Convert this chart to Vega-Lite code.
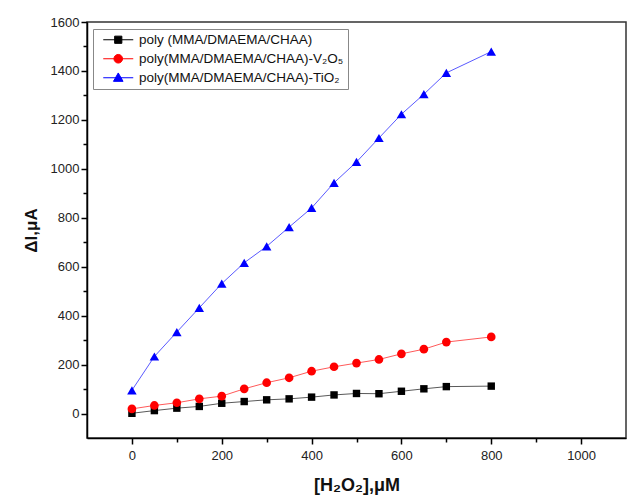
{
  "$schema": "https://vega.github.io/schema/vega-lite/v6.json",
  "width": 539,
  "height": 416,
  "autosize": {"type": "none"},
  "padding": {"left": 87, "top": 22, "right": 1, "bottom": 62},
  "background": "white",
  "config": {"view": {"stroke": "#333333", "strokeWidth": 1.5}, "font": "Liberation Sans"},
  "data": {"values": [
    {"series": "poly (MMA/DMAEMA/CHAA)", "conc": 0, "dI": 1},
    {"series": "poly (MMA/DMAEMA/CHAA)", "conc": 50, "dI": 12},
    {"series": "poly (MMA/DMAEMA/CHAA)", "conc": 100, "dI": 22},
    {"series": "poly (MMA/DMAEMA/CHAA)", "conc": 150, "dI": 29},
    {"series": "poly (MMA/DMAEMA/CHAA)", "conc": 200, "dI": 42},
    {"series": "poly (MMA/DMAEMA/CHAA)", "conc": 250, "dI": 49},
    {"series": "poly (MMA/DMAEMA/CHAA)", "conc": 300, "dI": 56},
    {"series": "poly (MMA/DMAEMA/CHAA)", "conc": 350, "dI": 60},
    {"series": "poly (MMA/DMAEMA/CHAA)", "conc": 400, "dI": 67},
    {"series": "poly (MMA/DMAEMA/CHAA)", "conc": 450, "dI": 76},
    {"series": "poly (MMA/DMAEMA/CHAA)", "conc": 500, "dI": 82},
    {"series": "poly (MMA/DMAEMA/CHAA)", "conc": 550, "dI": 81},
    {"series": "poly (MMA/DMAEMA/CHAA)", "conc": 600, "dI": 91},
    {"series": "poly (MMA/DMAEMA/CHAA)", "conc": 650, "dI": 101},
    {"series": "poly (MMA/DMAEMA/CHAA)", "conc": 700, "dI": 110},
    {"series": "poly (MMA/DMAEMA/CHAA)", "conc": 800, "dI": 112},
    {"series": "poly(MMA/DMAEMA/CHAA)-V₂O₅", "conc": 0, "dI": 19},
    {"series": "poly(MMA/DMAEMA/CHAA)-V₂O₅", "conc": 50, "dI": 33},
    {"series": "poly(MMA/DMAEMA/CHAA)-V₂O₅", "conc": 100, "dI": 44},
    {"series": "poly(MMA/DMAEMA/CHAA)-V₂O₅", "conc": 150, "dI": 60},
    {"series": "poly(MMA/DMAEMA/CHAA)-V₂O₅", "conc": 200, "dI": 71},
    {"series": "poly(MMA/DMAEMA/CHAA)-V₂O₅", "conc": 250, "dI": 101},
    {"series": "poly(MMA/DMAEMA/CHAA)-V₂O₅", "conc": 300, "dI": 126},
    {"series": "poly(MMA/DMAEMA/CHAA)-V₂O₅", "conc": 350, "dI": 146},
    {"series": "poly(MMA/DMAEMA/CHAA)-V₂O₅", "conc": 400, "dI": 173},
    {"series": "poly(MMA/DMAEMA/CHAA)-V₂O₅", "conc": 450, "dI": 191},
    {"series": "poly(MMA/DMAEMA/CHAA)-V₂O₅", "conc": 500, "dI": 206},
    {"series": "poly(MMA/DMAEMA/CHAA)-V₂O₅", "conc": 550, "dI": 221},
    {"series": "poly(MMA/DMAEMA/CHAA)-V₂O₅", "conc": 600, "dI": 244},
    {"series": "poly(MMA/DMAEMA/CHAA)-V₂O₅", "conc": 650, "dI": 263},
    {"series": "poly(MMA/DMAEMA/CHAA)-V₂O₅", "conc": 700, "dI": 292},
    {"series": "poly(MMA/DMAEMA/CHAA)-V₂O₅", "conc": 800, "dI": 313},
    {"series": "poly(MMA/DMAEMA/CHAA)-TiO₂", "conc": 0, "dI": 95},
    {"series": "poly(MMA/DMAEMA/CHAA)-TiO₂", "conc": 50, "dI": 233},
    {"series": "poly(MMA/DMAEMA/CHAA)-TiO₂", "conc": 100, "dI": 333},
    {"series": "poly(MMA/DMAEMA/CHAA)-TiO₂", "conc": 150, "dI": 432},
    {"series": "poly(MMA/DMAEMA/CHAA)-TiO₂", "conc": 200, "dI": 531},
    {"series": "poly(MMA/DMAEMA/CHAA)-TiO₂", "conc": 250, "dI": 616},
    {"series": "poly(MMA/DMAEMA/CHAA)-TiO₂", "conc": 300, "dI": 683},
    {"series": "poly(MMA/DMAEMA/CHAA)-TiO₂", "conc": 350, "dI": 762},
    {"series": "poly(MMA/DMAEMA/CHAA)-TiO₂", "conc": 400, "dI": 840},
    {"series": "poly(MMA/DMAEMA/CHAA)-TiO₂", "conc": 450, "dI": 943},
    {"series": "poly(MMA/DMAEMA/CHAA)-TiO₂", "conc": 500, "dI": 1028},
    {"series": "poly(MMA/DMAEMA/CHAA)-TiO₂", "conc": 550, "dI": 1126},
    {"series": "poly(MMA/DMAEMA/CHAA)-TiO₂", "conc": 600, "dI": 1223},
    {"series": "poly(MMA/DMAEMA/CHAA)-TiO₂", "conc": 650, "dI": 1305},
    {"series": "poly(MMA/DMAEMA/CHAA)-TiO₂", "conc": 700, "dI": 1392},
    {"series": "poly(MMA/DMAEMA/CHAA)-TiO₂", "conc": 800, "dI": 1479}
  ]},
  "encoding": {
    "x": {
      "field": "conc", "type": "quantitative",
      "scale": {"domain": [-100, 1100], "nice": false, "zero": false},
      "axis": {
        "values": [0, 100, 200, 300, 400, 500, 600, 700, 800, 900, 1000],
        "format": "d",
        "labelExpr": "datum.value % 200 === 0 ? datum.label : ''",
        "tickSize": {"condition": {"test": "datum.value % 200 === 0", "value": 6}, "value": 4},
        "grid": false,
        "domainColor": "#000000", "domainWidth": 1.5,
        "tickColor": "#000000", "tickWidth": 1.5,
        "labelFontSize": 13, "labelColor": "#222222", "labelPadding": 5,
        "title": "[H₂O₂],μM", "titleFontSize": 18, "titleFontWeight": "bold", "titleColor": "#111111", "titlePadding": 14
      }
    },
    "y": {
      "field": "dI", "type": "quantitative",
      "scale": {"domain": [-100, 1600], "nice": false, "zero": false},
      "axis": {
        "values": [0, 100, 200, 300, 400, 500, 600, 700, 800, 900, 1000, 1100, 1200, 1300, 1400, 1500, 1600],
        "format": "d",
        "labelExpr": "datum.value % 200 === 0 ? datum.label : ''",
        "tickSize": {"condition": {"test": "datum.value % 200 === 0", "value": 6}, "value": 4},
        "grid": false,
        "domainColor": "#000000", "domainWidth": 1.5,
        "tickColor": "#000000", "tickWidth": 1.5,
        "labelFontSize": 13, "labelColor": "#222222", "labelPadding": 2,
        "title": "ΔI,μA", "titleFontSize": 17, "titleFontWeight": "bold", "titleColor": "#111111", "titlePadding": 10
      }
    }
  },
  "layer": [
    {
      "transform": [{"filter": "datum.series === 'poly (MMA/DMAEMA/CHAA)'"}],
      "mark": {"type": "line", "strokeWidth": 1, "opacity": 0.65, "color": "#000000"}
    },
    {
      "transform": [{"filter": "datum.series === 'poly(MMA/DMAEMA/CHAA)-V₂O₅'"}],
      "mark": {"type": "line", "strokeWidth": 1, "opacity": 0.65, "color": "#ff0000"}
    },
    {
      "transform": [{"filter": "datum.series === 'poly(MMA/DMAEMA/CHAA)-TiO₂'"}],
      "mark": {"type": "line", "strokeWidth": 1, "opacity": 0.65, "color": "#0000ff"}
    },
    {
      "transform": [{"filter": "datum.series === 'poly (MMA/DMAEMA/CHAA)'"}],
      "mark": {"type": "point", "filled": true, "opacity": 1, "shape": "square", "size": 55, "color": "#000000"}
    },
    {
      "transform": [{"filter": "datum.series === 'poly(MMA/DMAEMA/CHAA)-V₂O₅'"}],
      "mark": {"type": "point", "filled": true, "opacity": 1, "shape": "circle", "size": 75, "color": "#ff0000"}
    },
    {
      "transform": [{"filter": "datum.series === 'poly(MMA/DMAEMA/CHAA)-TiO₂'"}],
      "mark": {"type": "point", "filled": true, "opacity": 1, "shape": "triangle-up", "size": 90, "color": "#0000ff"}
    },
    {
      "mark": {"type": "point", "filled": true, "opacity": 0, "size": 144},
      "encoding": {
        "color": {"field": "series", "type": "nominal",
          "scale": {"domain": ["poly (MMA/DMAEMA/CHAA)", "poly(MMA/DMAEMA/CHAA)-V₂O₅", "poly(MMA/DMAEMA/CHAA)-TiO₂"], "range": ["#000000", "#ff0000", "#0000ff"]},
          "legend": {
            "title": null, "orient": "none", "legendX": 6, "legendY": 7,
            "padding": 4, "strokeColor": "#888888", "fillColor": "#ffffff",
            "symbolSize": 144, "symbolOffset": 14.5, "labelOffset": 14,
            "labelFontSize": 13.5, "labelColor": "#111111", "rowPadding": 4,
            "labelLimit": 400,
            "encode": {"symbols": {"update": {"opacity": {"value": 1}, "strokeWidth": {"value": 1}, "fill": {"scale": "color", "field": "value"}, "stroke": {"scale": "color", "field": "value"}}}}
          }},
        "shape": {"field": "series", "type": "nominal",
          "scale": {"domain": ["poly (MMA/DMAEMA/CHAA)", "poly(MMA/DMAEMA/CHAA)-V₂O₅", "poly(MMA/DMAEMA/CHAA)-TiO₂"],
            "range": [
              "M-2.5,0H2.5M-0.6,-0.6H0.6V0.6H-0.6Z",
              "M-2.5,0H2.5M-0.72,0A0.72,0.72,0,1,0,0.72,0A0.72,0.72,0,1,0,-0.72,0Z",
              "M-2.5,0H2.5M0,-0.8L0.8,0.6L-0.8,0.6Z"
            ]},
          "legend": {
            "title": null, "orient": "none", "legendX": 6, "legendY": 7,
            "padding": 4, "strokeColor": "#888888", "fillColor": "#ffffff",
            "symbolSize": 144, "symbolOffset": 14.5, "labelOffset": 14,
            "labelFontSize": 13.5, "labelColor": "#111111", "rowPadding": 4,
            "labelLimit": 400,
            "encode": {"symbols": {"update": {"opacity": {"value": 1}, "strokeWidth": {"value": 1}, "fill": {"scale": "color", "field": "value"}, "stroke": {"scale": "color", "field": "value"}}}}
          }}
      }
    }
  ]
}
